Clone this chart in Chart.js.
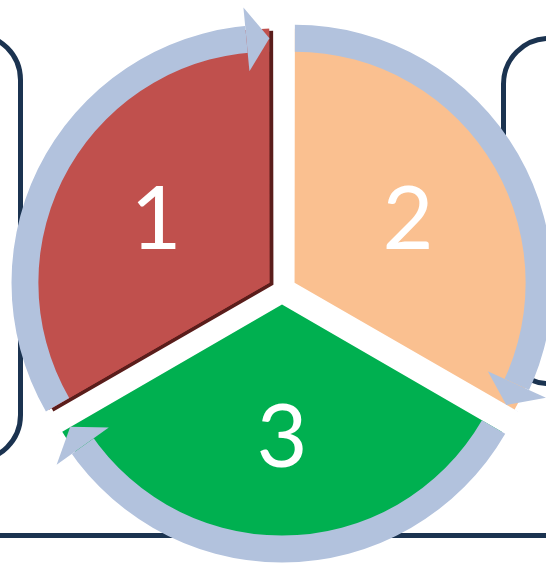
<!DOCTYPE html>
<html>
<head>
<meta charset="utf-8">
<script src="https://cdn.jsdelivr.net/npm/chart.js@4"></script>
<style>
  html, body { margin: 0; padding: 0; background: #fff; }
  #wrap { position: relative; width: 546px; height: 566px; overflow: hidden; background: #fff; }
  #wrap canvas { position: absolute; left: 0; top: 0; }
  .box { position: absolute; border: 5px solid #1b3350; border-radius: 48px; box-sizing: border-box; }
  #leftBox { left: -100px; top: 32px; width: 123px; height: 431px; }
  #rightBox { left: 501px; top: 36px; width: 120px; height: 350px; }
  #bottomLine { position: absolute; left: 0; top: 533px; width: 546px; height: 5px; background: #1b3350; }
  #fontProbe { position: absolute; left: -999px; top: 0; font: 87px Lato; }
</style>
</head>
<body>
<div id="wrap">
  <div class="box" id="leftBox"></div>
  <div class="box" id="rightBox"></div>
  <div id="bottomLine"></div>
  <canvas id="pieChart" width="546" height="566"></canvas>
  <canvas id="ringChart" width="546" height="566"></canvas>
</div>
<span id="fontProbe">123</span>
<script>
'use strict';
// steps of the cycle
const labels = ['1', '2', '3'];
const stepValues = [1, 1, 1];
const ringValues = [1, 1, 1];

const sliceColors = ['#c0504d', '#fac090', '#00b050'];
const bandColor = '#b2c2dd';
const shadowColor = '#5a1d1b';
const labelSize = 88;
const labelFont = labelSize + 'px Lato, Carlito, "Open Sans", sans-serif';

const sliceOffset = 58;
const arrowAngle = 5.4 * Math.PI / 180;
const arrowHalf = 32;

// chart.js moves an arc by offset/4 along its middle angle
function shift(el) {
  const mid = (el.startAngle + el.endAngle) / 2;
  const d = (el.options.offset || 0) / 4;
  const fix = 1 - Math.sin(Math.min(Math.PI, el.circumference));
  return { x: el.x + Math.cos(mid) * d, y: el.y + Math.sin(mid) * d, grow: d * fix };
}

const shadowPlugin = {
  id: 'shadow',
  beforeDatasetsDraw(chart) {
    const ctx = chart.ctx;
    const el = chart.getDatasetMeta(0).data[0];
    ctx.save();
    ctx.shadowColor = shadowColor;
    ctx.shadowBlur = 0;
    ctx.shadowOffsetX = 4;
    ctx.shadowOffsetY = 2;
    el.draw(ctx);
    ctx.restore();
  }
};

const labelPlugin = {
  id: 'stepLabels',
  afterDatasetsDraw(chart) {
    const ctx = chart.ctx;
    const meta = chart.getDatasetMeta(0);
    ctx.save();
    ctx.fillStyle = '#ffffff';
    ctx.font = labelFont;
    ctx.textAlign = 'center';
    ctx.textBaseline = 'alphabetic';
    meta.data.forEach((el, i) => {
      const c = shift(el);
      const mid = (el.startAngle + el.endAngle) / 2;
      const r = el.outerRadius * 0.52;
      ctx.fillText(chart.data.labels[i], c.x + Math.cos(mid) * r, c.y + Math.sin(mid) * r + labelSize * 0.358);
    });
    ctx.restore();
  }
};

// cut the end of each band and put an arrow head there
const arrowPlugin = {
  id: 'arrows',
  beforeDatasetsDraw(chart) {
    const ctx = chart.ctx;
    const meta = chart.getDatasetMeta(0);
    ctx.save();
    ctx.beginPath();
    ctx.rect(0, 0, chart.width, chart.height);
    meta.data.forEach((el) => {
      const c = shift(el);
      ctx.moveTo(c.x, c.y);
      ctx.arc(c.x, c.y, 400, el.endAngle - arrowAngle, el.endAngle);
      ctx.closePath();
    });
    ctx.clip('evenodd');
  },
  afterDatasetsDraw(chart) {
    const ctx = chart.ctx;
    ctx.restore();
    const meta = chart.getDatasetMeta(0);
    ctx.save();
    ctx.fillStyle = bandColor;
    meta.data.forEach((el) => {
      const c = shift(el);
      const rm = (el.innerRadius + el.outerRadius) / 2 + c.grow;
      const a0 = el.endAngle - arrowAngle;
      const a1 = el.endAngle;
      ctx.beginPath();
      ctx.moveTo(c.x + Math.cos(a0) * (rm - arrowHalf), c.y + Math.sin(a0) * (rm - arrowHalf));
      ctx.lineTo(c.x + Math.cos(a0) * (rm + arrowHalf), c.y + Math.sin(a0) * (rm + arrowHalf));
      ctx.lineTo(c.x + Math.cos(a1) * rm, c.y + Math.sin(a1) * rm);
      ctx.closePath();
      ctx.fill();
    });
    ctx.restore();
  }
};

const common = {
  responsive: false,
  animation: false,
  events: [],
  rotation: -120,
  layout: { padding: { left: 18, top: 14, right: 0, bottom: 0 } },
  plugins: { legend: { display: false }, tooltip: { enabled: false } }
};

function drawCharts() {
  new Chart(document.getElementById('pieChart').getContext('2d'), {
    type: 'pie',
    data: {
      labels: labels,
      datasets: [{
        data: stepValues,
        backgroundColor: sliceColors,
        borderWidth: 0,
        offset: sliceOffset
      }]
    },
    options: Object.assign({}, common, { radius: 252 }),
    plugins: [shadowPlugin, labelPlugin]
  });

  new Chart(document.getElementById('ringChart').getContext('2d'), {
    type: 'doughnut',
    data: {
      labels: labels,
      datasets: [{
        data: ringValues,
        backgroundColor: bandColor,
        borderWidth: 0,
        offset: sliceOffset
      }]
    },
    options: Object.assign({}, common, { radius: 256, cutout: '89.5%' }),
    plugins: [arrowPlugin]
  });
}

// wait for the local font so the digits are not drawn in a fallback face
if (document.fonts && document.fonts.load) {
  document.fonts.load(labelFont).then(drawCharts, drawCharts);
} else {
  drawCharts();
}
</script>
</body>
</html>
